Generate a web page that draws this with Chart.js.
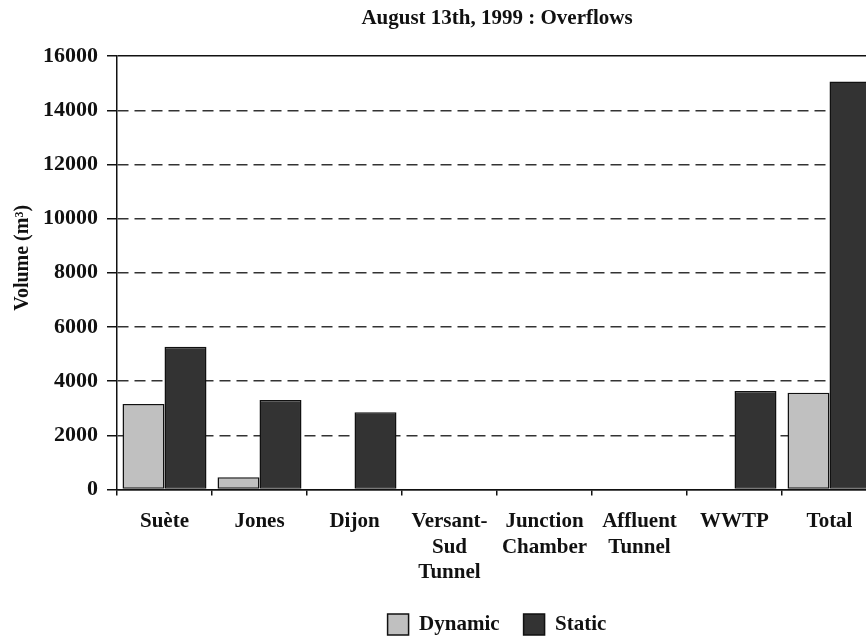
<!DOCTYPE html>
<html>
<head>
<meta charset="utf-8">
<script src="https://cdn.jsdelivr.net/npm/chart.js@4/dist/chart.umd.min.js"></script>
<style>
html, body { margin: 0; padding: 0; overflow: hidden; background: #fff; }
#wrap { width: 992px; height: 637px; position: relative; }
</style>
</head>
<body>
<div id="wrap"><canvas id="c"></canvas></div>
<script>
const categories = ['Suète', 'Jones', 'Dijon', ['Versant-', 'Sud', 'Tunnel'], ['Junction', 'Chamber'], ['Affluent', 'Tunnel'], 'WWTP', 'Total'];
const dynamicValues = [3150, 450, 0, 0, 0, 0, 0, 3570];
const staticValues = [5270, 3300, 2850, 0, 0, 0, 3630, 15070];
const yMin = 0, yMax = 16000, yStep = 2000;

const FONT = 'Liberation Serif, Times New Roman, serif';

new Chart(document.getElementById('c'), {
  type: 'bar',
  data: {
    labels: categories,
    datasets: [
      { label: 'Dynamic', data: dynamicValues, backgroundColor: '#c0c0c0', borderColor: '#111', borderWidth: 1.5, borderSkipped: false },
      { label: 'Static', data: staticValues, backgroundColor: '#333333', borderColor: '#111', borderWidth: 1.5, borderSkipped: false }
    ]
  },
  options: {
    responsive: true,
    maintainAspectRatio: false,
    animation: false,
    layout: { padding: { left: 0, right: 115, top: 0, bottom: -8 } },
    datasets: { bar: { categoryPercentage: 0.884, barPercentage: 1.0 } },
    plugins: {
      title: {
        display: true, fullSize: false,
        text: 'August 13th, 1999 : Overflows',
        color: '#111',
        font: { family: FONT, size: 21, weight: 'bold' },
        padding: { top: 6, bottom: 25 }
      },
      legend: {
        position: 'bottom', fullSize: false,
        labels: {
          color: '#111',
          font: { family: FONT, size: 21, weight: 'bold' },
          boxWidth: 21, boxHeight: 21, padding: 24
        }
      },
      tooltip: { enabled: false }
    },
    scales: {
      x: {
        offset: true,
        afterFit: s => { s.height -= 9; },
        grid: { display: true, drawOnChartArea: false, drawTicks: true, tickLength: 6, color: '#111', lineWidth: 1.5, offset: true },
        border: { display: true, color: '#111', width: 1.5 },
        ticks: { color: '#111', font: { family: FONT, size: 21, weight: 'bold' }, maxRotation: 0, minRotation: 0, autoSkip: false, padding: 14 }
      },
      y: {
        min: yMin, max: yMax,
        afterFit: s => { s.width = 117; },
        grid: {
          color: ctx => (ctx.tick && ctx.tick.value === yMax) ? '#111' : '#333',
          lineWidth: 1.5,
          drawTicks: true, tickLength: 10, tickColor: '#111'
        },
        border: {
          display: true, color: '#111', width: 1.5,
          dash: ctx => (ctx.tick && (ctx.tick.value === yMax || ctx.tick.value === yMin)) ? [] : [11, 6]
        },
        ticks: { stepSize: yStep, color: '#111', font: { family: FONT, size: 22, weight: 'bold' }, padding: 9,
          callback: v => String(v) },
        title: {
          display: true, text: '      Volume (m³)', color: '#111',
          font: { family: FONT, size: 20, weight: 'bold' },
          padding: { top: 11, bottom: 0 }
        }
      }
    }
  }
});
</script>
</body>
</html>
